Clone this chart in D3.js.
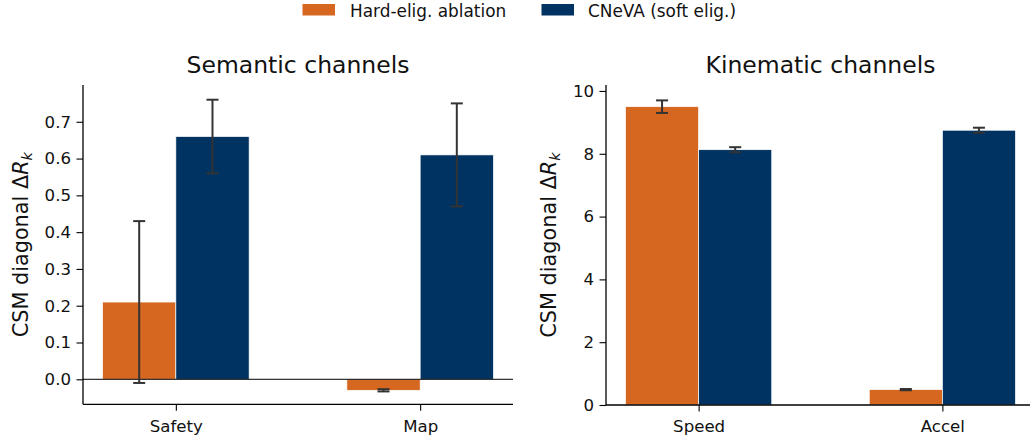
<html>
<head>
<meta charset="utf-8" />
<script src="https://d3js.org/d3.v7.min.js"></script>
<style>
    body { margin: 0px; background: #fff; }
    text { font-family: "DejaVu Sans", sans-serif; fill: #111; }
</style>
</head>
<body>
<script>
    // values
    var seriesNames = ["Hard-elig. ablation", "CNeVA (soft elig.)"];
    var seriesColors = ["#D66720", "#003361"];

    var semCats = ["Safety", "Map"];
    var semHard = [0.21, -0.03];
    var semHardErr = [0.22, 0.003];
    var semSoft = [0.66, 0.61];
    var semSoftErr = [0.10, 0.14];
    var semTicks = [0.0, 0.1, 0.2, 0.3, 0.4, 0.5, 0.6, 0.7];

    var kinCats = ["Speed", "Accel"];
    var kinHard = [9.5, 0.49];
    var kinHardErr = [0.2, 0.02];
    var kinSoft = [8.13, 8.75];
    var kinSoftErr = [0.08, 0.08];
    var kinTicks = [0, 2, 4, 6, 8, 10];

    var svg = d3.select("body").append("svg")
        .attr("width", 1030)
        .attr("height", 440);

    // legend
    var legend = svg.append("g");
    [[302.5, 350], [541.5, 588]].forEach(function(p, i) {
        legend.append("rect")
            .attr("x", p[0]).attr("y", 4)
            .attr("width", 32.5).attr("height", 11.5)
            .attr("fill", seriesColors[i]);
        legend.append("text")
            .attr("x", p[1]).attr("y", 16.5)
            .style("font-size", "16.9px")
            .text(seriesNames[i]);
    });

    function drawPanel(opt) {
        var x = d3.scaleLinear().domain([-0.38, 1.38]).range([opt.left, opt.right]);
        var y = d3.scaleLinear().domain(opt.yDomain).range([opt.bottom, opt.top]);
        var g = svg.append("g");
        var barW = 0.3;

        var rows = [];
        opt.cats.forEach(function(c, i) {
            rows.push({ i: i, s: 0, v: opt.hard[i], e: opt.hardErr[i], x0: i - barW, x1: i });
            rows.push({ i: i, s: 1, v: opt.soft[i], e: opt.softErr[i], x0: i, x1: i + barW });
        });

        g.selectAll("rect.bar")
            .data(rows)
            .enter()
            .append("rect")
                .attr("class", "bar")
                .attr("x", d => x(d.x0))
                .attr("width", d => x(d.x1) - x(d.x0))
                .attr("y", d => y(Math.max(0, d.v)))
                .attr("height", d => Math.abs(y(d.v) - y(0)))
                .attr("fill", d => seriesColors[d.s])
                .attr("stroke", "#fff")
                .attr("stroke-width", 0.7);

        // zero line
        if (opt.yDomain[0] < 0) {
            g.append("line")
                .attr("x1", opt.left).attr("x2", opt.right)
                .attr("y1", y(0)).attr("y2", y(0))
                .attr("stroke", "#000").attr("stroke-width", 1);
        }

        // error bars
        var eb = g.selectAll("g.err")
            .data(rows)
            .enter()
            .append("g")
            .attr("stroke", "#333")
            .attr("stroke-width", 2);
        eb.append("line")
            .attr("x1", d => x((d.x0 + d.x1) / 2)).attr("x2", d => x((d.x0 + d.x1) / 2))
            .attr("y1", d => y(d.v - d.e)).attr("y2", d => y(d.v + d.e));
        eb.append("line")
            .attr("x1", d => x((d.x0 + d.x1) / 2) - 6).attr("x2", d => x((d.x0 + d.x1) / 2) + 6)
            .attr("y1", d => y(d.v + d.e)).attr("y2", d => y(d.v + d.e));
        eb.append("line")
            .attr("x1", d => x((d.x0 + d.x1) / 2) - 6).attr("x2", d => x((d.x0 + d.x1) / 2) + 6)
            .attr("y1", d => y(d.v - d.e)).attr("y2", d => y(d.v - d.e));

        // axes
        var yAxis = g.append("g")
            .attr("transform", "translate(" + opt.left + ",0)")
            .call(d3.axisLeft(y).tickValues(opt.ticks).tickFormat(opt.fmt).tickSize(6.5).tickPadding(5.5));
        var xAxis = g.append("g")
            .attr("transform", "translate(0," + opt.bottom + ")")
            .call(d3.axisBottom(x).tickValues([0, 1]).tickFormat(i => opt.cats[i]).tickSize(6.5).tickPadding(9));
        [yAxis, xAxis].forEach(function(a) {
            a.select(".domain").attr("stroke", "#000").attr("stroke-width", 1.3);
            a.selectAll(".tick line").attr("stroke", "#000").attr("stroke-width", 1.1);
            a.selectAll(".tick text")
                .style("font-size", "16.6px")
                .style("font-family", "DejaVu Sans, sans-serif")
                .attr("fill", "#111");
        });
        // plain spines instead of the axis outer ticks
        yAxis.select(".domain").attr("d", "M0," + opt.bottom + "V" + opt.top);
        xAxis.select(".domain").attr("d", "M" + opt.left + ",0H" + opt.right);

        // title
        g.append("text")
            .attr("x", (opt.left + opt.right) / 2)
            .attr("y", 72.5)
            .attr("text-anchor", "middle")
            .style("font-size", "23.5px")
            .text(opt.title);

        // y label
        var lab = g.append("text")
            .attr("transform", "translate(" + opt.labelX + "," + ((opt.top + opt.bottom) / 2) + ") rotate(-90)")
            .attr("text-anchor", "middle")
            .style("font-size", "20.8px");
        lab.append("tspan").text("CSM diagonal Δ");
        lab.append("tspan").style("font-style", "italic").text("R");
        lab.append("tspan").style("font-style", "italic").style("font-size", "14.5px").attr("dy", 4).text("k");
    }

    drawPanel({
        left: 83, right: 513, top: 85, bottom: 404.3,
        yDomain: [-0.068, 0.80],
        cats: semCats, hard: semHard, hardErr: semHardErr, soft: semSoft, softErr: semSoftErr,
        ticks: semTicks, fmt: d3.format(".1f"),
        title: "Semantic channels", labelX: 28
    });

    drawPanel({
        left: 606, right: 1035, top: 85, bottom: 405,
        yDomain: [0, 10.19],
        cats: kinCats, hard: kinHard, hardErr: kinHardErr, soft: kinSoft, softErr: kinSoftErr,
        ticks: kinTicks, fmt: d3.format("d"),
        title: "Kinematic channels", labelX: 556
    });
</script>
</body>
</html>
